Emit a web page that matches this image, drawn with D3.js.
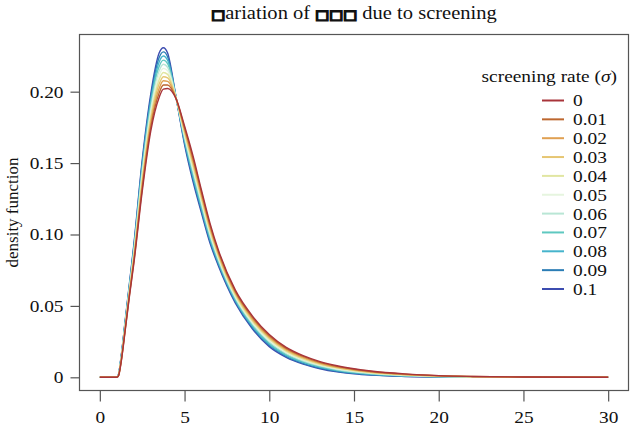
<!DOCTYPE html>
<html><head><meta charset="utf-8">
<script src="https://cdn.jsdelivr.net/npm/d3@7/dist/d3.min.js"></script>
<style>
body{margin:0;background:#fff;}
</style></head>
<body><svg id="c" width="630" height="428"></svg>
<script>
const xs = [0,1,1.1,1.25,1.5,1.75,2,2.5,3,3.5,3.75,4,4.5,5,5.5,6,6.5,7,8,9,10,11,12,13,14,15,16,18,20,22,25,30];
const rates = ["0","0.01","0.02","0.03","0.04","0.05","0.06","0.07","0.08","0.09","0.1"];
const colors = ["#a8343a","#bd672f","#e0a052","#e6c672","#e1e6a2","#e6f5df","#b9e6d5","#5ec8c0","#46b4cc","#2b7db5","#3c4cb0"];
const s0  = [0,0,0.001,0.010,0.033,0.057,0.079,0.130,0.172,0.196,0.2018,0.2022,0.195,0.176,0.155,0.131,0.108,0.089,0.061,0.043,0.030,0.021,0.0152,0.011,0.0081,0.006,0.0044,0.0024,0.0012,0.0006,0.0002,0];
const s1  = [0,0,0.0011,0.0104,0.0337,0.0579,0.0803,0.1322,0.1746,0.1991,0.2047,0.2047,0.1951,0.1747,0.1532,0.1294,0.1066,0.0879,0.0601,0.0421,0.0292,0.0203,0.0146,0.0105,0.0077,0.0056,0.0041,0.0022,0.0011,0.0006,0.0002,0];
const s2  = [0,0,0.0012,0.0108,0.0344,0.0588,0.0816,0.1344,0.1772,0.2022,0.2076,0.2072,0.1952,0.1734,0.1514,0.1278,0.1052,0.0868,0.0592,0.0412,0.0283,0.0196,0.014,0.010,0.0072,0.0053,0.0038,0.002,0.001,0.0005,0.0002,0];
const s3  = [0,0,0.0013,0.0112,0.0351,0.0597,0.0829,0.1366,0.1798,0.2053,0.2105,0.2096,0.1953,0.1721,0.1496,0.1262,0.1038,0.0857,0.0583,0.0403,0.0275,0.0189,0.0134,0.0095,0.0068,0.0049,0.0035,0.0019,0.0009,0.0005,0.0001,0];
const s4  = [0,0,0.0014,0.0116,0.0358,0.0606,0.0842,0.1388,0.1824,0.2084,0.2134,0.2121,0.1954,0.1708,0.1478,0.1246,0.1024,0.0846,0.0574,0.0394,0.0266,0.0182,0.0128,0.009,0.0064,0.0046,0.0032,0.0017,0.0008,0.0004,0.0001,0];
const s5  = [0,0,0.0015,0.012,0.0365,0.0615,0.0855,0.141,0.185,0.2115,0.2163,0.2146,0.1955,0.1695,0.146,0.123,0.101,0.0835,0.0565,0.0385,0.0258,0.0175,0.0122,0.0085,0.006,0.0042,0.003,0.0015,0.0007,0.0004,0.0001,0];
const s6  = [0,0,0.0016,0.0124,0.0372,0.0624,0.0868,0.1432,0.1876,0.2146,0.2192,0.2171,0.1956,0.1682,0.1442,0.1214,0.0996,0.0824,0.0556,0.0376,0.0249,0.0168,0.0116,0.008,0.0055,0.0038,0.0027,0.0013,0.0006,0.0003,0.0001,0];
const s7  = [0,0,0.0017,0.0128,0.0379,0.0633,0.0881,0.1454,0.1902,0.2177,0.2221,0.2196,0.1957,0.1669,0.1424,0.1198,0.0982,0.0813,0.0547,0.0367,0.0241,0.0161,0.011,0.0075,0.0051,0.0035,0.0024,0.0011,0.0005,0.0003,0.0001,0];
const s8  = [0,0,0.0018,0.0132,0.0386,0.0642,0.0894,0.1476,0.1928,0.2208,0.225,0.222,0.1958,0.1656,0.1406,0.1182,0.0968,0.0802,0.0538,0.0358,0.0232,0.0154,0.0104,0.007,0.0047,0.0031,0.0021,0.001,0.0004,0.0002,0,0];
const s9  = [0,0,0.0019,0.0136,0.0393,0.0651,0.0907,0.1498,0.1954,0.2239,0.2279,0.2245,0.1959,0.1643,0.1388,0.1166,0.0954,0.0791,0.0529,0.0349,0.0224,0.0147,0.0098,0.0065,0.0042,0.0028,0.0018,0.0008,0.0003,0.0002,0,0];
const s10 = [0,0,0.002,0.014,0.040,0.066,0.092,0.152,0.198,0.227,0.2308,0.227,0.196,0.163,0.137,0.115,0.094,0.078,0.052,0.034,0.0215,0.014,0.0092,0.006,0.0038,0.0024,0.0015,0.0006,0.0002,0.0001,0,0];
const seriesVals = [s0,s1,s2,s3,s4,s5,s6,s7,s8,s9,s10];
const xTicks = [0,5,10,15,20,25,30];
const yTicks = [0,0.05,0.10,0.15,0.20];
const yTickLabels = ["0","0.05","0.10","0.15","0.20"];

const SERIF = "Liberation Serif";
const SX = 1.14; // horizontal stretch of the reference's lettering
const svg = d3.select("#c");
const L=79.5, R=628.5, T=34.5, B=390.5;
const xDom=[0,30], yDom=[0,0.2308];
const xPad=(xDom[1]-xDom[0])*0.04, yPad=(yDom[1]-yDom[0])*0.04;
const x = d3.scaleLinear().domain([xDom[0]-xPad,xDom[1]+xPad]).range([L,R]);
const y = d3.scaleLinear().domain([yDom[0]-yPad,yDom[1]+yPad]).range([B,T]);

const line = d3.line().x(d=>x(d[0])).y(d=>y(d[1])).curve(d3.curveMonotoneX);
const g = svg.append("g");
for (let i=seriesVals.length-1;i>=0;i--){
  g.append("path").datum(xs.map((v,j)=>[v,seriesVals[i][j]]))
   .attr("d",line).attr("fill","none").attr("stroke",colors[i]).attr("stroke-width",1.4);
}

svg.append("rect").attr("x",L).attr("y",T).attr("width",R-L).attr("height",B-T)
  .attr("fill","none").attr("stroke","#555").attr("stroke-width",1.2);

const xa = svg.append("g").attr("transform",`translate(0,${B})`)
  .call(d3.axisBottom(x).tickValues(xTicks).tickSize(11).tickPadding(9).tickFormat(d3.format("d")));
const ya = svg.append("g").attr("transform",`translate(${L},0)`)
  .call(d3.axisLeft(y).tickValues(yTicks).tickSize(9).tickPadding(5).tickFormat((d,i)=>yTickLabels[i]));
[xa,ya].forEach(a=>{
  a.attr("font-family",null).attr("font-size",null);
  a.select(".domain").remove();
  a.selectAll("line").attr("stroke","#555").attr("stroke-width",1.2);
  a.selectAll("text").style("font-family",SERIF).style("font-size","17px").attr("fill","#111")
   .attr("transform",`scale(${SX},1)`);
});

svg.append("text").attr("transform",`translate(18,${(T+B)/2}) rotate(-90)`)
  .attr("text-anchor","middle").style("font-family",SERIF).style("font-size","17px").attr("fill","#111").text("density function");

const title = svg.append("text").attr("transform",`translate(${(L+R)/2},19) scale(${SX},1)`).attr("text-anchor","middle")
  .style("font-family",SERIF).style("font-size","18px").attr("fill","#111");
const box = t => title.append("tspan").style("font-family","DejaVu Sans").style("font-weight","bold")
  .style("font-size","13px").attr("stroke","#111").attr("stroke-width",1.6).text(t);
box("\u25A1");
title.append("tspan").text("ariation of ");
box("\u25A1\u25A1\u25A1");
title.append("tspan").text(" due to screening");

const lt = svg.append("text").attr("transform",`translate(617,82) scale(${SX},1)`).attr("text-anchor","end")
  .style("font-family",SERIF).style("font-size","17px").attr("fill","#111");
lt.append("tspan").text("screening rate (");
lt.append("tspan").style("font-style","italic").text("\u03C3");
lt.append("tspan").text(")");

const leg = svg.append("g");
rates.forEach((r,i)=>{
  const cy = 100.5 + i*18.85;
  leg.append("line").attr("x1",542).attr("x2",564).attr("y1",cy).attr("y2",cy)
    .attr("stroke",colors[i]).attr("stroke-width",2);
  leg.append("text").attr("transform",`translate(573,${cy}) scale(${SX},1)`).attr("dy","0.35em")
    .style("font-family",SERIF).style("font-size","17px").attr("fill","#111").text(r);
});
</script></body></html>
